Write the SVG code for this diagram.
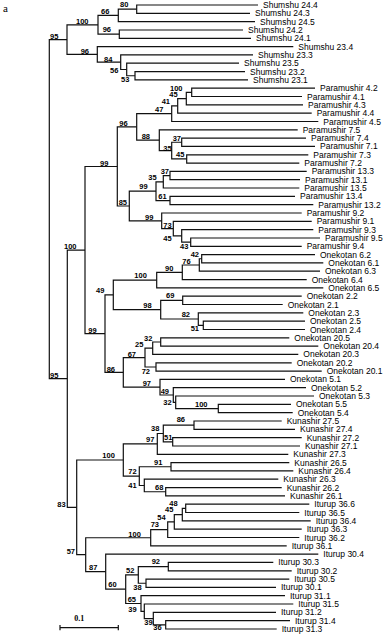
<svg xmlns="http://www.w3.org/2000/svg" width="386" height="637" viewBox="0 0 386 637">
<style>
.br{fill:none;stroke:#111;stroke-width:1.2}
.lf{font-family:"Liberation Sans",Arial,sans-serif;font-size:8.5px;fill:#000}
.bs{font-family:"Liberation Sans",Arial,sans-serif;font-size:7.5px;font-weight:bold;fill:#000}
.sr{font-family:"Liberation Serif","Times New Roman",serif;fill:#000}
</style>
<rect width="386" height="637" fill="#fff"/>
<text class="sr" x="3" y="11.5" font-size="11">a</text>
<g id="connectors">
<path class="br" d="M67,39.6H49.3V378.7H67.3"/>
<path class="br" d="M98,24.8H67V54.4H97.3"/>
<path class="br" d="M118.3,15.4H98V34.15H119.3"/>
<path class="br" d="M136.7,9.15H118.3V21.6H255"/>
<path class="br" d="M258,5H136.7V13.3H250"/>
<path class="br" d="M243,30H119.3V38.3H251"/>
<path class="br" d="M293.3,46.6H97.3V62.2H120.7"/>
<path class="br" d="M253,54.9H120.7V69.5H126.7"/>
<path class="br" d="M239,63.2H126.7V75.75H135"/>
<path class="br" d="M245,71.6H135V79.9H248"/>
<path class="br" d="M85,250.1H67.3V507.35H76.7"/>
<path class="br" d="M117.3,166.5H85V333.65H105"/>
<path class="br" d="M136.7,126.95H117.3V206H129.3"/>
<path class="br" d="M171.7,113.7H136.7V140.2H159.3"/>
<path class="br" d="M177.7,105.9H171.7V121.5H318.3"/>
<path class="br" d="M186.3,98.6H177.7V113.2H311.7"/>
<path class="br" d="M191.7,92.35H186.3V104.8H303"/>
<path class="br" d="M315,88.2H191.7V96.5H302"/>
<path class="br" d="M297.7,129.8H159.3V150.6H171.7"/>
<path class="br" d="M181.7,142.25H171.7V158.95H186.7"/>
<path class="br" d="M306,138.1H181.7V146.4H315"/>
<path class="br" d="M308.3,154.8H186.7V163.1H299.3"/>
<path class="br" d="M156,191.2H129.3V220.8H161.7"/>
<path class="br" d="M163.3,181.8H156V200.55H170"/>
<path class="br" d="M170,175.55H163.3V188H299.3"/>
<path class="br" d="M306.7,171.4H170V179.7H300"/>
<path class="br" d="M295,196.4H170V204.7H313.3"/>
<path class="br" d="M301.7,213H161.7V228.6H173.3"/>
<path class="br" d="M311.7,221.3H173.3V235.9H181.7"/>
<path class="br" d="M313.3,229.6H181.7V242.15H190.7"/>
<path class="br" d="M320,238H190.7V246.3H301.7"/>
<path class="br" d="M113.3,294.9H105V372.4H123.3"/>
<path class="br" d="M156.7,280.1H113.3V309.7H160.7"/>
<path class="br" d="M182.3,272.3H156.7V287.9H323.3"/>
<path class="br" d="M199.3,265H182.3V279.6H306.7"/>
<path class="br" d="M201.7,258.75H199.3V271.2H320"/>
<path class="br" d="M315,254.6H201.7V262.9H323.3"/>
<path class="br" d="M182.7,300.35H160.7V319H198.3"/>
<path class="br" d="M301.7,296.2H182.7V304.5H282.7"/>
<path class="br" d="M303.3,312.8H198.3V325.35H203.3"/>
<path class="br" d="M305,321.2H203.3V329.5H305"/>
<path class="br" d="M145,357.6H123.3V387.2H160"/>
<path class="br" d="M152.7,348.2H145V367H156"/>
<path class="br" d="M160.7,342H152.7V354.4H298.3"/>
<path class="br" d="M289.3,337.8H160.7V346.1H318.3"/>
<path class="br" d="M291.7,362.8H156V371.1H321.7"/>
<path class="br" d="M285,379.4H160V395H173.3"/>
<path class="br" d="M306,387.7H173.3V402.3H175.7"/>
<path class="br" d="M314,396H175.7V408.55H218.3"/>
<path class="br" d="M291,404.4H218.3V412.7H292.7"/>
<path class="br" d="M123.3,460H76.7V554.7H85.7"/>
<path class="br" d="M157.3,443.9H123.3V476.1H139.3"/>
<path class="br" d="M163.3,433.5H157.3V454.3H288.3"/>
<path class="br" d="M194,425.15H163.3V441.8H172.7"/>
<path class="br" d="M281.7,421H194V429.3H295"/>
<path class="br" d="M301.7,437.6H172.7V446H300"/>
<path class="br" d="M171,466.75H139.3V485.5H144.3"/>
<path class="br" d="M289.3,462.6H171V470.9H293.3"/>
<path class="br" d="M278.3,479.2H144.3V491.75H165.7"/>
<path class="br" d="M281.7,487.6H165.7V495.9H285"/>
<path class="br" d="M150.7,537.75H85.7V571.65H105.7"/>
<path class="br" d="M167.7,529.7H150.7V545.8H286.7"/>
<path class="br" d="M174.3,521.9H167.7V537.5H299.3"/>
<path class="br" d="M182.3,514.6H174.3V529.2H301.7"/>
<path class="br" d="M185.7,508.35H182.3V520.8H310.7"/>
<path class="br" d="M309.3,504.2H185.7V512.5H299.3"/>
<path class="br" d="M318.3,554.1H105.7V589.2H125.7"/>
<path class="br" d="M138.3,574.9H125.7V603.5H141"/>
<path class="br" d="M168.3,566.6H138.3V583.25H146"/>
<path class="br" d="M273.3,562.4H168.3V570.8H291.7"/>
<path class="br" d="M289.3,579.1H146V587.4H276"/>
<path class="br" d="M285,595.7H141V611.3H144.3"/>
<path class="br" d="M293.3,604H144.3V618.6H153.3"/>
<path class="br" d="M276,612.4H153.3V624.85H165.7"/>
<path class="br" d="M290,620.7H165.7V629H276.7"/>
</g>
<g id="scale-bar">
<path class="br" d="M60,627.7H118.3M60,625V630.3M118.3,625V630.3"/>
<text class="sr" x="74.3" y="620.7" font-size="8" font-weight="bold">0.1</text>
</g>
<g id="bootstrap">
<g id="n-s80"><text class="bs" x="120" y="7.3">80</text></g>
<g id="n-s66"><text class="bs" x="101" y="14">66</text></g>
<g id="n-s100"><text class="bs" x="76" y="23.7">100</text></g>
<g id="n-s96a"><text class="bs" x="102.7" y="32.3">96</text></g>
<g id="n-s95"><text class="bs" x="50" y="38.9">95</text></g>
<g id="n-s96b"><text class="bs" x="80.7" y="53.7">96</text></g>
<g id="n-s84"><text class="bs" x="104" y="61.5">84</text></g>
<g id="n-s56"><text class="bs" x="110" y="73.3">56</text></g>
<g id="n-s53"><text class="bs" x="121" y="81.7">53</text></g>
<g id="n-p100"><text class="bs" x="170" y="90.7">100</text></g>
<g id="n-p45"><text class="bs" x="169.3" y="96.7">45</text></g>
<g id="n-p41"><text class="bs" x="161.7" y="104.3">41</text></g>
<g id="n-p47"><text class="bs" x="155" y="112.3">47</text></g>
<g id="n-p96"><text class="bs" x="119.3" y="125.7">96</text></g>
<g id="n-p88"><text class="bs" x="141.7" y="139">88</text></g>
<g id="n-p37"><text class="bs" x="172.7" y="140.7">37</text></g>
<g id="n-p35"><text class="bs" x="163.3" y="150.7">35</text></g>
<g id="n-p45b"><text class="bs" x="176" y="157.3">45</text></g>
<g id="n-p99"><text class="bs" x="100" y="165.7">99</text></g>
<g id="n-p37b"><text class="bs" x="160.7" y="173.7">37</text></g>
<g id="n-p35b"><text class="bs" x="148.3" y="180">35</text></g>
<g id="n-p99b"><text class="bs" x="139.3" y="189">99</text></g>
<g id="n-p61"><text class="bs" x="158.3" y="199">61</text></g>
<g id="n-p85"><text class="bs" x="118.7" y="205.3">85</text></g>
<g id="n-p99c"><text class="bs" x="145" y="220">99</text></g>
<g id="n-p73"><text class="bs" x="163.3" y="228.3">73</text></g>
<g id="n-p45c"><text class="bs" x="163.3" y="240.7">45</text></g>
<g id="n-p43"><text class="bs" x="180" y="249.3">43</text></g>
<g id="n-b100"><text class="bs" x="64" y="249">100</text></g>
<g id="n-o42"><text class="bs" x="190.7" y="257.3">42</text></g>
<g id="n-o76"><text class="bs" x="182.3" y="264.3">76</text></g>
<g id="n-o90"><text class="bs" x="165" y="271">90</text></g>
<g id="n-o100"><text class="bs" x="134.3" y="278.3">100</text></g>
<g id="n-o49"><text class="bs" x="96" y="293.3">49</text></g>
<g id="n-o69"><text class="bs" x="166" y="298.3">69</text></g>
<g id="n-o98"><text class="bs" x="143.3" y="308.3">98</text></g>
<g id="n-o82"><text class="bs" x="181.7" y="317.3">82</text></g>
<g id="n-o51"><text class="bs" x="190.7" y="330.7">51</text></g>
<g id="n-o99"><text class="bs" x="88.3" y="332.7">99</text></g>
<g id="n-o32"><text class="bs" x="144" y="340.7">32</text></g>
<g id="n-o25"><text class="bs" x="135" y="346.7">25</text></g>
<g id="n-o67"><text class="bs" x="127.7" y="356.7">67</text></g>
<g id="n-o86"><text class="bs" x="106.7" y="371.7">86</text></g>
<g id="n-o72"><text class="bs" x="141.7" y="374">72</text></g>
<g id="n-b95"><text class="bs" x="50" y="377.7">95</text></g>
<g id="n-o97"><text class="bs" x="142.7" y="386">97</text></g>
<g id="n-o49b"><text class="bs" x="160.7" y="394">49</text></g>
<g id="n-o32b"><text class="bs" x="163.3" y="405">32</text></g>
<g id="n-o100b"><text class="bs" x="195" y="406.7">100</text></g>
<g id="n-k86"><text class="bs" x="176.7" y="422.3">86</text></g>
<g id="n-k38"><text class="bs" x="151" y="431">38</text></g>
<g id="n-k51"><text class="bs" x="164" y="440">51</text></g>
<g id="n-k97"><text class="bs" x="146" y="442.3">97</text></g>
<g id="n-k100"><text class="bs" x="102.3" y="458.3">100</text></g>
<g id="n-k91"><text class="bs" x="154" y="465">91</text></g>
<g id="n-k72"><text class="bs" x="128.3" y="474.3">72</text></g>
<g id="n-k41"><text class="bs" x="128.3" y="488.3">41</text></g>
<g id="n-k68"><text class="bs" x="155" y="490">68</text></g>
<g id="n-b83"><text class="bs" x="57.3" y="506.7">83</text></g>
<g id="n-i48"><text class="bs" x="169.3" y="505.7">48</text></g>
<g id="n-i45"><text class="bs" x="165" y="512.3">45</text></g>
<g id="n-i54"><text class="bs" x="157.3" y="520">54</text></g>
<g id="n-i73"><text class="bs" x="150.7" y="526.7">73</text></g>
<g id="n-i100"><text class="bs" x="128.3" y="536.7">100</text></g>
<g id="n-i57"><text class="bs" x="66.7" y="554">57</text></g>
<g id="n-i92"><text class="bs" x="151.7" y="564.3">92</text></g>
<g id="n-i87"><text class="bs" x="89" y="570">87</text></g>
<g id="n-i52"><text class="bs" x="126" y="572.7">52</text></g>
<g id="n-i60"><text class="bs" x="108.3" y="587.3">60</text></g>
<g id="n-i38"><text class="bs" x="133.3" y="590">38</text></g>
<g id="n-i65"><text class="bs" x="127.7" y="601.7">65</text></g>
<g id="n-i39a"><text class="bs" x="128.3" y="612.3">39</text></g>
<g id="n-i39b"><text class="bs" x="144.3" y="625">39</text></g>
<g id="n-i36"><text class="bs" x="153.3" y="630">36</text></g>
</g>
<g id="leaves">
<g id="leaf-s24-4"><text class="lf" x="263" y="8">Shumshu 24.4</text></g>
<g id="leaf-s24-3"><text class="lf" x="255" y="16.3">Shumshu 24.3</text></g>
<g id="leaf-s24-5"><text class="lf" x="260" y="24.6">Shumshu 24.5</text></g>
<g id="leaf-s24-2"><text class="lf" x="248" y="33">Shumshu 24.2</text></g>
<g id="leaf-s24-1"><text class="lf" x="256" y="41.3">Shumshu 24.1</text></g>
<g id="leaf-s23-4"><text class="lf" x="298.3" y="49.6">Shumshu 23.4</text></g>
<g id="leaf-s23-3"><text class="lf" x="258" y="57.9">Shumshu 23.3</text></g>
<g id="leaf-s23-5"><text class="lf" x="244" y="66.2">Shumshu 23.5</text></g>
<g id="leaf-s23-2"><text class="lf" x="250" y="74.6">Shumshu 23.2</text></g>
<g id="leaf-s23-1"><text class="lf" x="253" y="82.9">Shumshu 23.1</text></g>
<g id="leaf-p4-2"><text class="lf" x="320" y="91.2">Paramushir 4.2</text></g>
<g id="leaf-p4-1"><text class="lf" x="307" y="99.5">Paramushir 4.1</text></g>
<g id="leaf-p4-3"><text class="lf" x="308" y="107.8">Paramushir 4.3</text></g>
<g id="leaf-p4-4"><text class="lf" x="316.7" y="116.2">Paramushir 4.4</text></g>
<g id="leaf-p4-5"><text class="lf" x="323.3" y="124.5">Paramushir 4.5</text></g>
<g id="leaf-p7-5"><text class="lf" x="302.7" y="132.8">Paramushir 7.5</text></g>
<g id="leaf-p7-4"><text class="lf" x="311" y="141.1">Paramushir 7.4</text></g>
<g id="leaf-p7-1"><text class="lf" x="320" y="149.4">Paramushir 7.1</text></g>
<g id="leaf-p7-3"><text class="lf" x="313.3" y="157.8">Paramushir 7.3</text></g>
<g id="leaf-p7-2"><text class="lf" x="304.3" y="166.1">Paramushir 7.2</text></g>
<g id="leaf-p13-3"><text class="lf" x="311.7" y="174.4">Paramushir 13.3</text></g>
<g id="leaf-p13-1"><text class="lf" x="305" y="182.7">Paramushir 13.1</text></g>
<g id="leaf-p13-5"><text class="lf" x="304.3" y="191">Paramushir 13.5</text></g>
<g id="leaf-p13-4"><text class="lf" x="300" y="199.4">Paramushir 13.4</text></g>
<g id="leaf-p13-2"><text class="lf" x="318.3" y="207.7">Paramushir 13.2</text></g>
<g id="leaf-p9-2"><text class="lf" x="306.7" y="216">Paramushir 9.2</text></g>
<g id="leaf-p9-1"><text class="lf" x="316.7" y="224.3">Paramushir 9.1</text></g>
<g id="leaf-p9-3"><text class="lf" x="318.3" y="232.6">Paramushir 9.3</text></g>
<g id="leaf-p9-5"><text class="lf" x="325" y="241">Paramushir 9.5</text></g>
<g id="leaf-p9-4"><text class="lf" x="306.7" y="249.3">Paramushir 9.4</text></g>
<g id="leaf-o6-2"><text class="lf" x="320" y="257.6">Onekotan 6.2</text></g>
<g id="leaf-o6-1"><text class="lf" x="328.3" y="265.9">Onekotan 6.1</text></g>
<g id="leaf-o6-3"><text class="lf" x="325" y="274.2">Onekotan 6.3</text></g>
<g id="leaf-o6-4"><text class="lf" x="311.7" y="282.6">Onekotan 6.4</text></g>
<g id="leaf-o6-5"><text class="lf" x="328.3" y="290.9">Onekotan 6.5</text></g>
<g id="leaf-o2-2"><text class="lf" x="306.7" y="299.2">Onekotan 2.2</text></g>
<g id="leaf-o2-1"><text class="lf" x="287.7" y="307.5">Onekotan 2.1</text></g>
<g id="leaf-o2-3"><text class="lf" x="308.3" y="315.8">Onekotan 2.3</text></g>
<g id="leaf-o2-5"><text class="lf" x="310" y="324.2">Onekotan 2.5</text></g>
<g id="leaf-o2-4"><text class="lf" x="310" y="332.5">Onekotan 2.4</text></g>
<g id="leaf-o20-5"><text class="lf" x="294.3" y="340.8">Onekotan 20.5</text></g>
<g id="leaf-o20-4"><text class="lf" x="323.3" y="349.1">Onekotan 20.4</text></g>
<g id="leaf-o20-3"><text class="lf" x="303.3" y="357.4">Onekotan 20.3</text></g>
<g id="leaf-o20-2"><text class="lf" x="296.7" y="365.8">Onekotan 20.2</text></g>
<g id="leaf-o20-1"><text class="lf" x="326.7" y="374.1">Onekotan 20.1</text></g>
<g id="leaf-o5-1"><text class="lf" x="290" y="382.4">Onekotan 5.1</text></g>
<g id="leaf-o5-2"><text class="lf" x="311" y="390.7">Onekotan 5.2</text></g>
<g id="leaf-o5-3"><text class="lf" x="319" y="399">Onekotan 5.3</text></g>
<g id="leaf-o5-5"><text class="lf" x="296" y="407.4">Onekotan 5.5</text></g>
<g id="leaf-o5-4"><text class="lf" x="297.7" y="415.7">Onekotan 5.4</text></g>
<g id="leaf-k27-5"><text class="lf" x="286.7" y="424">Kunashir 27.5</text></g>
<g id="leaf-k27-4"><text class="lf" x="300" y="432.3">Kunashir 27.4</text></g>
<g id="leaf-k27-2"><text class="lf" x="306.7" y="440.6">Kunashir 27.2</text></g>
<g id="leaf-k27-1"><text class="lf" x="305" y="449">Kunashir 27.1</text></g>
<g id="leaf-k27-3"><text class="lf" x="293.3" y="457.3">Kunashir 27.3</text></g>
<g id="leaf-k26-5"><text class="lf" x="294.3" y="465.6">Kunashir 26.5</text></g>
<g id="leaf-k26-4"><text class="lf" x="298.3" y="473.9">Kunashir 26.4</text></g>
<g id="leaf-k26-3"><text class="lf" x="283.3" y="482.2">Kunashir 26.3</text></g>
<g id="leaf-k26-2"><text class="lf" x="286.7" y="490.6">Kunashir 26.2</text></g>
<g id="leaf-k26-1"><text class="lf" x="290" y="498.9">Kunashir 26.1</text></g>
<g id="leaf-i36-6"><text class="lf" x="314.3" y="507.2">Iturup 36.6</text></g>
<g id="leaf-i36-5"><text class="lf" x="304.3" y="515.5">Iturup 36.5</text></g>
<g id="leaf-i36-4"><text class="lf" x="315.7" y="523.8">Iturup 36.4</text></g>
<g id="leaf-i36-3"><text class="lf" x="306.7" y="532.2">Iturup 36.3</text></g>
<g id="leaf-i36-2"><text class="lf" x="304.3" y="540.5">Iturup 36.2</text></g>
<g id="leaf-i36-1"><text class="lf" x="291.7" y="548.8">Iturup 36.1</text></g>
<g id="leaf-i30-4"><text class="lf" x="323.3" y="557.1">Iturup 30.4</text></g>
<g id="leaf-i30-3"><text class="lf" x="278.3" y="565.4">Iturup 30.3</text></g>
<g id="leaf-i30-2"><text class="lf" x="296.7" y="573.8">Iturup 30.2</text></g>
<g id="leaf-i30-5"><text class="lf" x="294.3" y="582.1">Iturup 30.5</text></g>
<g id="leaf-i30-1"><text class="lf" x="281" y="590.4">Iturup 30.1</text></g>
<g id="leaf-i31-1"><text class="lf" x="290" y="598.7">Iturup 31.1</text></g>
<g id="leaf-i31-5"><text class="lf" x="298.3" y="607">Iturup 31.5</text></g>
<g id="leaf-i31-2"><text class="lf" x="281" y="615.4">Iturup 31.2</text></g>
<g id="leaf-i31-4"><text class="lf" x="295" y="623.7">Iturup 31.4</text></g>
<g id="leaf-i31-3"><text class="lf" x="281.7" y="632">Iturup 31.3</text></g>
</g>
</svg>
